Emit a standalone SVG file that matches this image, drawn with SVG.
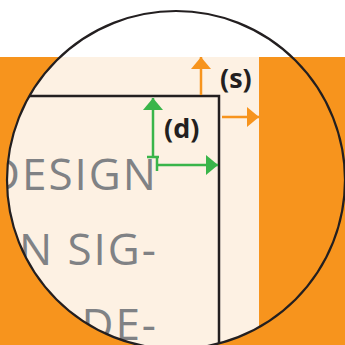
<svg xmlns="http://www.w3.org/2000/svg" width="345" height="345" viewBox="0 0 345 345">
<defs>
<clipPath id="circ"><circle cx="176" cy="180" r="169"/></clipPath>
<marker id="ao" viewBox="0 0 12 20" refX="12" refY="10" markerWidth="12" markerHeight="20" markerUnits="userSpaceOnUse" orient="auto"><path d="M0,0 L12,10 L0,20 Z" fill="#f7941d"/></marker>
<marker id="ag" viewBox="0 0 12 20" refX="12" refY="10" markerWidth="12" markerHeight="20" markerUnits="userSpaceOnUse" orient="auto"><path d="M0,0 L12,10 L0,20 Z" fill="#39b54a"/></marker>
<style>
.big{font-family:"Open Sans","Liberation Sans",sans-serif;font-size:44px;fill:#808285;letter-spacing:2px}
.lbl{font-family:"Open Sans","Liberation Sans",sans-serif;font-size:27px;font-weight:bold;fill:#231f20}
.o{stroke:#f7941d;stroke-width:2.5;fill:none}
.g{stroke:#39b54a;stroke-width:2.5;fill:none}
</style>
</defs>
<rect width="345" height="345" fill="#ffffff"/>
<rect x="0" y="57" width="345" height="288" fill="#f7941d"/>
<g clip-path="url(#circ)">
<rect x="0" y="57" width="259" height="288" fill="#fdf1e3"/>
<g id="text">
<text class="big" x="158" y="190" text-anchor="end">DESIGN</text>
<text class="big" x="19" y="265">N</text>
<text class="big" x="158" y="265" text-anchor="end">SIG-</text>
<text class="big" x="158" y="340" text-anchor="end">DE-</text>
</g>
<path id="box" d="M0,96 H219 V345" fill="none" stroke="#231f20" stroke-width="2.5"/>
</g>
<circle cx="176" cy="180" r="169" fill="none" stroke="#231f20" stroke-width="2.2"/>
<g id="connectors">
<path class="o" d="M201,95 V57" marker-end="url(#ao)"/>
<path class="o" d="M222,117 H259" marker-end="url(#ao)"/>
<path class="g" d="M153,157 V98" marker-end="url(#ag)"/>
<path class="g" d="M157,165 H218" marker-end="url(#ag)"/>
<path class="g" d="M147,157 H159 M157,157 V171"/>
</g>
<g id="labels">
<text class="lbl" x="220" y="88">(s)</text>
<text class="lbl" x="164" y="138">(d)</text>
</g>
</svg>
